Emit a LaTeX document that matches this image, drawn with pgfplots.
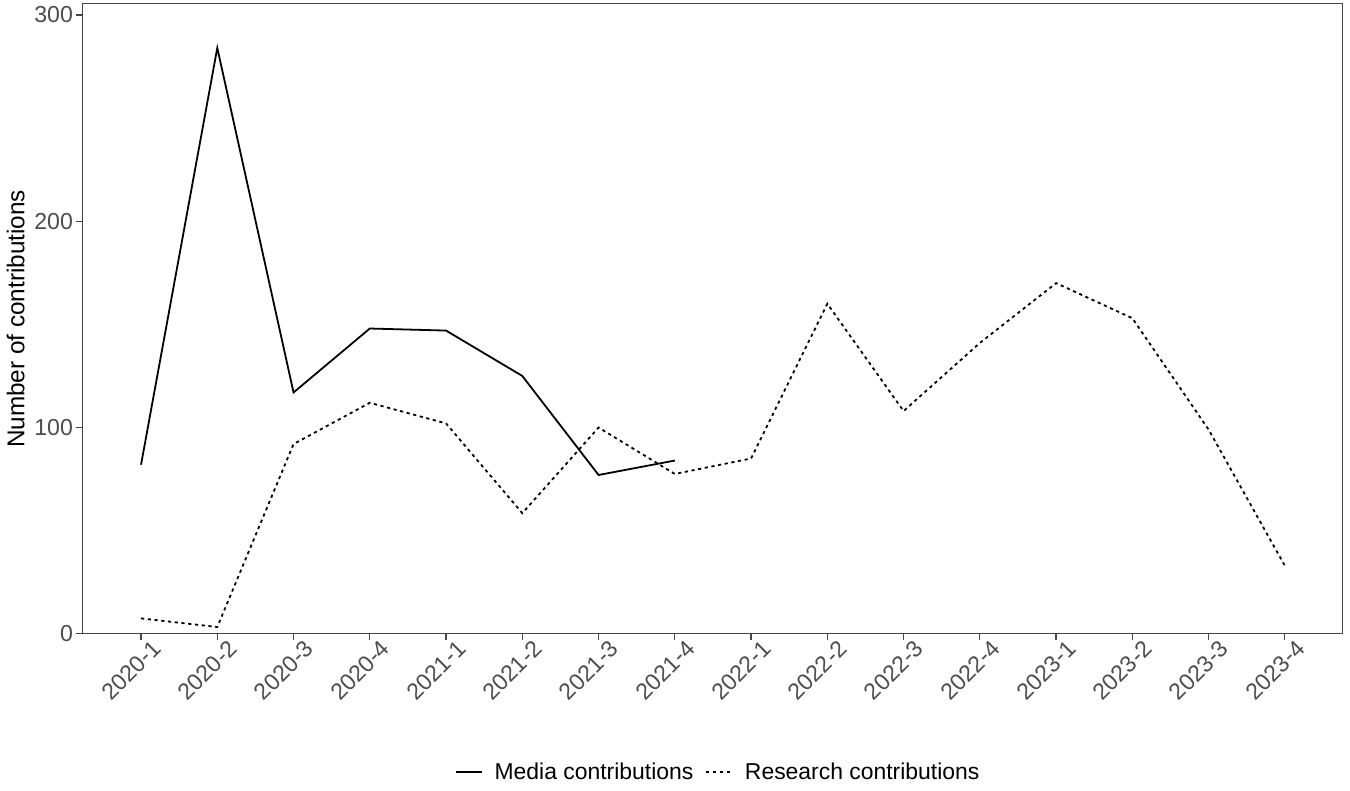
\documentclass[border=0pt]{standalone}
\usepackage{pgfplots}
\pgfplotsset{compat=1.18}
\usepackage{fontspec}
\setmainfont{Liberation Sans}
\definecolor{tickgray}{RGB}{77,77,77}
\definecolor{framegray}{RGB}{70,70,70}
\begin{document}
\begin{tikzpicture}
\begin{axis}[
  scale only axis,
  width=632pt, height=316pt,
  xmin=-0.77, xmax=15.75,
  ymin=0, ymax=305.3,
  ytick={0,100,200,300},
  xtick={0,...,15},
  xticklabels={2020-1,2020-2,2020-3,2020-4,2021-1,2021-2,2021-3,2021-4,2022-1,2022-2,2022-3,2022-4,2023-1,2023-2,2023-3,2023-4},
  xticklabel style={rotate=45, anchor=north east, font=\fontsize{11.6}{13}\selectfont, text=tickgray, inner sep=0pt, xshift=4pt, yshift=-3pt},
  yticklabel style={font=\fontsize{11.6}{13}\selectfont, text=tickgray, inner sep=1.5pt},
  /pgf/number format/assume math mode=true,
  tick align=outside,
  tick pos=left,
  major tick length=3pt,
  every tick/.style={framegray, line width=0.6pt},
  axis line style={framegray, line width=0.5pt},
  ylabel={Number of contributions},
  ylabel style={font=\fontsize{12.2}{14}\selectfont, at={(axis description cs:-0.053,0.5)}, anchor=center},
  legend columns=2,
  legend style={draw=none, at={(axis description cs:0.5,0)}, anchor=center, yshift=-69.5pt, xshift=3.5pt, font=\fontsize{11.5}{13}\selectfont, column sep=4pt},
  legend image code/.code={\draw[#1] (0pt,0pt) -- (13pt,0pt);},
  clip=false,
]
\addplot[black, line width=0.9pt] coordinates {
(0,82) (1,284) (2,117) (3,148) (4,147) (5,125) (6,77) (7,84)
};
\addlegendentry{Media contributions}
\addplot[black, line width=0.9pt, dash pattern=on 1.6pt off 1.8pt] coordinates {
(0,7.5) (1,3.3) (2,92) (3,112) (4,102) (5,58.5) (6,100) (7,77.5) (8,85) (9,160) (10,108) (11,141) (12,170) (13,153) (14,99) (15,33)
};
\addlegendentry{Research contributions}
\end{axis}
\path (current axis.south west) ++(-41pt,-75pt) coordinate (bbA);
\path (current axis.north east) ++(4pt,2pt) coordinate (bbB);
\path (bbA) rectangle (bbB);
\end{tikzpicture}
\end{document}
